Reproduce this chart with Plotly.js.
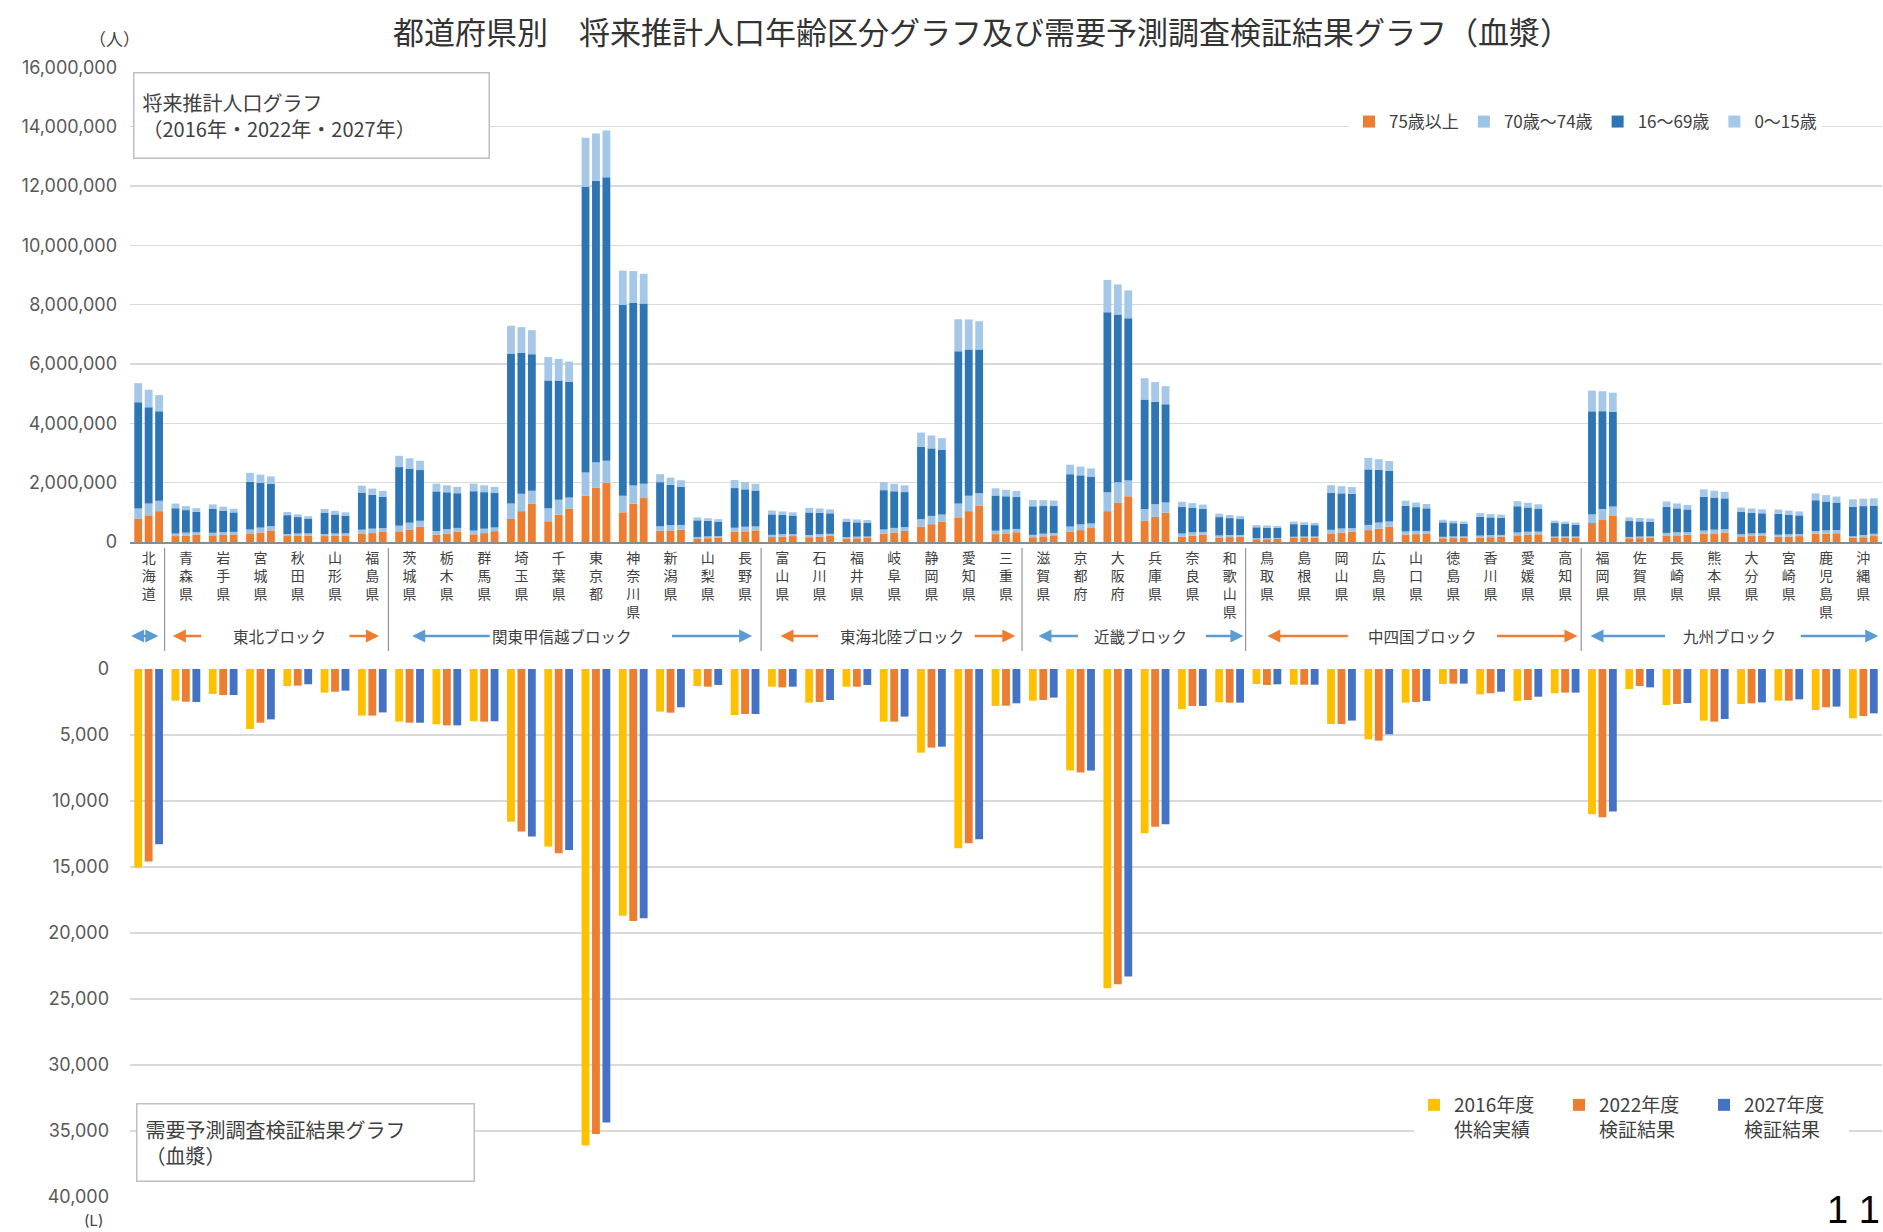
<!DOCTYPE html>
<html><head><meta charset="utf-8">
<script src="https://cdn.plot.ly/plotly-3.0.1.min.js"></script>
<style>html,body{margin:0;padding:0;background:#fff;}#chart{width:1883px;height:1232px;}</style>
</head><body><div id="chart"></div>
<script>
// ---------------- DATA ----------------
const prefectures = ['北海道','青森県','岩手県','宮城県','秋田県','山形県','福島県','茨城県','栃木県','群馬県','埼玉県','千葉県','東京都','神奈川県','新潟県','山梨県','長野県','富山県','石川県','福井県','岐阜県','静岡県','愛知県','三重県','滋賀県','京都府','大阪府','兵庫県','奈良県','和歌山県','鳥取県','島根県','岡山県','広島県','山口県','徳島県','香川県','愛媛県','高知県','福岡県','佐賀県','長崎県','熊本県','大分県','宮崎県','鹿児島県','沖縄県'];

const blockNames = ['東北ブロック','関東甲信越ブロック','東海北陸ブロック','近畿ブロック','中四国ブロック','九州ブロック'];

// population (thousands of people)
const age75_2016 = [780,200,225,290,200,200,290,360,245,260,780,700,1560,1000,380,120,350,165,160,120,285,520,830,265,160,340,1040,720,180,155,95,135,290,400,250,125,150,225,135,640,125,220,285,190,175,280,140];
const age75_2022 = [900,215,235,320,205,205,300,420,280,300,1040,920,1830,1290,390,128,360,180,180,125,320,600,1040,290,190,400,1330,850,215,165,95,135,315,450,265,130,160,240,135,740,128,225,290,200,180,275,160];
const age75_2027 = [1040,245,255,390,220,220,340,520,345,365,1290,1120,2000,1480,420,145,390,200,205,138,375,690,1220,330,225,470,1540,990,250,180,103,142,350,520,285,140,178,260,140,880,140,245,320,220,198,295,200];

const age70_2016 = [345,85,85,130,70,70,125,190,125,125,520,440,780,560,150,50,130,75,75,48,135,250,470,115,80,180,640,380,105,65,33,42,120,175,105,50,65,95,48,290,45,85,100,75,70,90,52];
const age70_2022 = [400,100,95,165,80,82,150,230,155,150,590,500,860,610,180,60,155,85,85,55,155,280,520,130,90,195,680,420,110,72,40,50,140,205,110,57,72,105,55,370,55,100,125,87,82,115,75];
const age70_2027 = [350,88,85,145,70,75,130,195,130,125,440,380,740,480,155,52,135,65,70,47,125,235,420,110,78,155,530,340,88,58,35,43,118,170,85,48,60,88,45,320,50,88,112,75,72,110,75];

const age16_2016 = [3587,853,803,1610,635,708,1251,1975,1336,1327,5049,4306,9634,6435,1486,560,1338,691,761,506,1327,2438,5127,1188,963,1765,6063,3700,901,619,367,425,1245,1872,869,487,632,885,456,3474,536,882,1144,745,701,1037,992];
const age16_2022 = [3240,760,725,1510,555,643,1140,1825,1240,1230,4740,4020,9480,6160,1360,522,1260,648,723,482,1235,2275,4930,1120,932,1650,5660,3460,833,568,350,398,1185,1775,800,448,598,820,420,3300,512,810,1085,703,658,975,975];
const age16_2027 = [3015,687,658,1420,500,595,1060,1710,1170,1160,4600,3900,9550,6080,1285,491,1210,627,693,465,1182,2175,4850,1075,909,1580,5470,3310,782,535,336,383,1157,1705,765,427,574,779,400,3190,492,765,1040,673,628,925,950];

const age0_2016 = [640,155,155,300,105,135,235,380,260,255,940,790,1650,1150,270,100,270,130,155,108,275,480,1080,240,210,320,1090,720,170,115,75,88,260,390,170,88,125,170,82,700,122,180,245,150,150,230,255];
const age0_2022 = [590,135,135,275,90,120,210,345,235,230,870,730,1600,1070,240,90,245,117,142,98,250,435,1010,220,198,295,1010,660,152,105,70,82,240,360,155,80,115,155,75,670,115,165,230,140,140,215,250];
const age0_2027 = [545,120,122,255,80,110,190,315,215,210,810,680,1580,1000,220,82,225,108,132,90,228,400,950,205,188,275,940,610,140,97,66,77,225,335,145,75,108,143,70,640,108,152,218,132,132,200,245];

// plasma (L)
const plasma2016 = [15050,2400,1890,4550,1290,1790,3530,3990,4190,3960,11570,13460,36110,18700,3230,1290,3490,1340,2550,1340,3990,6340,13590,2800,2400,7700,24200,12450,3030,2520,1140,1190,4170,5330,2550,1140,1920,2420,1840,11010,1520,2730,3910,2650,2400,3110,3740];
const plasma2022 = [14600,2480,1970,4070,1260,1720,3530,4070,4270,3990,12320,13960,35250,19100,3310,1340,3410,1390,2500,1340,3990,5960,13210,2780,2350,7850,23900,11950,2800,2550,1210,1190,4170,5430,2500,1110,1840,2350,1790,11240,1290,2650,3990,2600,2400,2900,3560];
const plasma2027 = [13280,2500,1970,3820,1160,1640,3290,4070,4270,3960,12700,13710,34370,18900,2900,1210,3410,1340,2350,1210,3610,5890,12900,2600,2170,7700,23300,11770,2800,2550,1160,1190,3910,4950,2420,1110,1720,2100,1790,10810,1390,2580,3790,2530,2300,2850,3360];

const popTicks = [0,2000000,4000000,6000000,8000000,10000000,12000000,14000000,16000000];
const plasmaTicks = [0,5000,10000,15000,20000,25000,30000,35000,40000];

// ---------------- LAYOUT HELPERS ----------------
const W = 1883, H = 1232;
const fx = px => px / W;
const fy = py => 1 - py / H;
const CJK = "'Noto Sans CJK JP', sans-serif";
const NUM = "Inter, 'Noto Sans CJK JP', sans-serif";
const ORANGE = '#ED7D31', BLUE_ARROW = '#5B9BD5';
const X = prefectures.map((_, i) => i);
const BAR_W = 0.21;
const OFFSETS = [-0.385, -0.105, 0.175];

const ageSeries = [
  {name:'75歳以上', color:'#ED7D31', values:[age75_2016, age75_2022, age75_2027]},
  {name:'70歳～74歳', color:'#9DC3E6', values:[age70_2016, age70_2022, age70_2027]},
  {name:'16～69歳', color:'#2E75B6', values:[age16_2016, age16_2022, age16_2027]},
  {name:'0～15歳', color:'#A5C8E8', values:[age0_2016, age0_2022, age0_2027]}
];
const plasmaSeries = [
  {name:'2016年度<br>供給実績', color:'#FFC000', values:plasma2016},
  {name:'2022年度<br>検証結果', color:'#ED7D31', values:plasma2022},
  {name:'2027年度<br>検証結果', color:'#4472C4', values:plasma2027}
];

const traces = [];
[0,1,2].forEach(yr => {
  let base = X.map(() => 0);
  ageSeries.forEach(s => {
    const v = s.values[yr].map(t => t * 1000);
    traces.push({type:'bar', x:X, y:v, base:base.slice(), offset:OFFSETS[yr], width:BAR_W,
      marker:{color:s.color, line:{width:0}}, name:s.name, showlegend: yr === 0,
      legend:'legend', xaxis:'x', yaxis:'y', hoverinfo:'skip'});
    base = base.map((b, i) => b + v[i]);
  });
});
plasmaSeries.forEach((s, k) => {
  traces.push({type:'bar', x:X, y:s.values, offset:OFFSETS[k], width:BAR_W,
    marker:{color:s.color, line:{width:0}}, name:s.name, legend:'legend2',
    xaxis:'x2', yaxis:'y2', hoverinfo:'skip'});
});

// block row (positions in category units)
const ROW_Y = fy(636);
const blockRow = [
  {text:null, cx:0, color:BLUE_ARROW, arrows:[{head:-0.47, tail:0.30, both:true}]},
  {text:blockNames[0], cx:3.5, color:ORANGE, arrows:[{head:0.65, tail:1.45},{head:6.18, tail:5.35}]},
  {text:blockNames[1], cx:11.1, color:BLUE_ARROW, arrows:[{head:7.07, tail:9.19},{head:16.19, tail:14.0}]},
  {text:blockNames[2], cx:20.2, color:ORANGE, arrows:[{head:16.95, tail:18.0},{head:23.25, tail:22.12}]},
  {text:blockNames[3], cx:26.6, color:BLUE_ARROW, arrows:[{head:23.87, tail:24.97},{head:29.37, tail:28.32}]},
  {text:blockNames[4], cx:34.17, color:ORANGE, arrows:[{head:30.01, tail:32.21},{head:38.33, tail:36.13}]},
  {text:blockNames[5], cx:42.41, color:BLUE_ARROW, arrows:[{head:38.68, tail:40.72},{head:46.4, tail:44.28}]}
];
const separators = [0, 6, 16, 23, 29, 38];

const annotations = [];
blockRow.forEach(b => {
  if (b.text) annotations.push({xref:'x', yref:'paper', x:b.cx, y:ROW_Y, text:b.text, showarrow:false,
    font:{family:CJK, size:15.5, color:'#404040'}, xanchor:'center', yanchor:'middle'});
  b.arrows.forEach(a => annotations.push({xref:'x', yref:'paper', x:a.head, y:ROW_Y,
    axref:'x', ayref:'pixel', ax:a.tail, ay:0, text:'', showarrow:true, arrowhead:2, arrowsize:1,
    arrowwidth:2.6, arrowcolor:b.color, arrowside: a.both ? 'end+start' : 'end', standoff:0, startstandoff:0}));
});
annotations.push(
  {xref:'paper', yref:'paper', x:fx(87), y:fy(24), text:'（人）', showarrow:false, font:{family:CJK, size:17, color:'#404040'}},
  {xref:'paper', yref:'paper', x:fx(83), y:fy(1231), yanchor:'bottom', text:'(L)', showarrow:false,
    font:{family:NUM, size:15, color:'#404040'}, borderpad:0},
  {xref:'paper', yref:'paper', x:fx(1881), y:fy(1232), xanchor:'right', yanchor:'bottom', text:'1 1', showarrow:false,
    borderpad:0, font:{family:"'Liberation Sans', Arial, sans-serif", size:38, color:'#000'}},
  {xref:'paper', yref:'paper', x:fx(133), y:fy(72), xanchor:'left', yanchor:'top', align:'left', valign:'middle',
    text:'将来推計人口グラフ<br>（2016年・2022年・2027年）', showarrow:false, width:338, height:68, borderpad:8,
    bgcolor:'#fff', bordercolor:'#bfbfbf', borderwidth:1.5, font:{family:CJK, size:20, color:'#404040'}},
  {xref:'paper', yref:'paper', x:fx(136), y:fy(1103), xanchor:'left', yanchor:'top', align:'left', valign:'middle',
    text:'需要予測調査検証結果グラフ<br>（血漿）', showarrow:false, width:320, height:60, borderpad:8,
    bgcolor:'#fff', bordercolor:'#bfbfbf', borderwidth:1.5, font:{family:CJK, size:20, color:'#404040'}},
  {xref:'paper', yref:'paper', x:fx(982), y:fy(7), xanchor:'center', yanchor:'top', showarrow:false, borderpad:0,
    text:'都道府県別　将来推計人口年齢区分グラフ及び需要予測調査検証結果グラフ（血漿）',
    font:{family:CJK, size:31, color:'#333'}}
);

const shapes = separators.map(i => ({type:'line', xref:'x', yref:'paper', x0:i + 0.43, x1:i + 0.43,
  y0:fy(548), y1:fy(651), line:{color:'#7f7f7f', width:1}}));

const layout = {
  width:W, height:H, margin:{l:0, r:0, t:0, b:0}, paper_bgcolor:'#fff', plot_bgcolor:'#fff',
  barmode:'overlay', font:{family:CJK, color:'#404040'}, hovermode:false,
  xaxis:{domain:[fx(130), fx(1882)], range:[-0.5, 46.5], anchor:'y', tickmode:'array', tickvals:X,
    ticktext:prefectures.map(p => p.split('').join('<br>')), tickfont:{family:CJK, size:14, color:'#404040'},
    ticks:'', showgrid:false, zeroline:false, showline:true, linecolor:'#8c8c8c', linewidth:2,
    ticklabelstandoff:2, fixedrange:true},
  yaxis:{domain:[fy(542), fy(67)], range:[0, 16008000], anchor:'x', tickmode:'array', tickvals:popTicks,
    tickformat:',', tickfont:{family:NUM, size:18, color:'#595959'}, ticks:'', showgrid:true,
    gridcolor:'#d9d9d9', gridwidth:1.5, zeroline:false, showline:false, ticklabelstandoff:12, fixedrange:true},
  xaxis2:{domain:[fx(130), fx(1882)], range:[-0.5, 46.5], anchor:'y2', showticklabels:false, ticks:'',
    showgrid:false, zeroline:false, showline:false, fixedrange:true},
  yaxis2:{domain:[fy(1197), fy(669)], range:[40020, 0], anchor:'x2', tickmode:'array', tickvals:plasmaTicks,
    tickformat:',', tickfont:{family:NUM, size:18, color:'#595959'}, ticks:'', showgrid:true,
    gridcolor:'#d9d9d9', gridwidth:1.5, zeroline:false, showline:false, ticklabelstandoff:20, fixedrange:true},
  legend:{orientation:'h', x:fx(1349), xanchor:'left', y:fy(104), yanchor:'top', bgcolor:'#fff',
    borderwidth:0, traceorder:'normal', itemwidth:30, font:{family:CJK, size:17, color:'#404040'}},
  legend2:{orientation:'h', x:fx(1414), xanchor:'left', y:fy(1086), yanchor:'top', bgcolor:'#fff',
    borderwidth:0, traceorder:'normal', itemwidth:30, valign:'top', entrywidth:100, entrywidthmode:'pixels',
    font:{family:CJK, size:19, color:'#404040'}},
  annotations:annotations, shapes:shapes
};

Plotly.newPlot('chart', traces, layout, {staticPlot:true, displayModeBar:false});
</script>
</body></html>
